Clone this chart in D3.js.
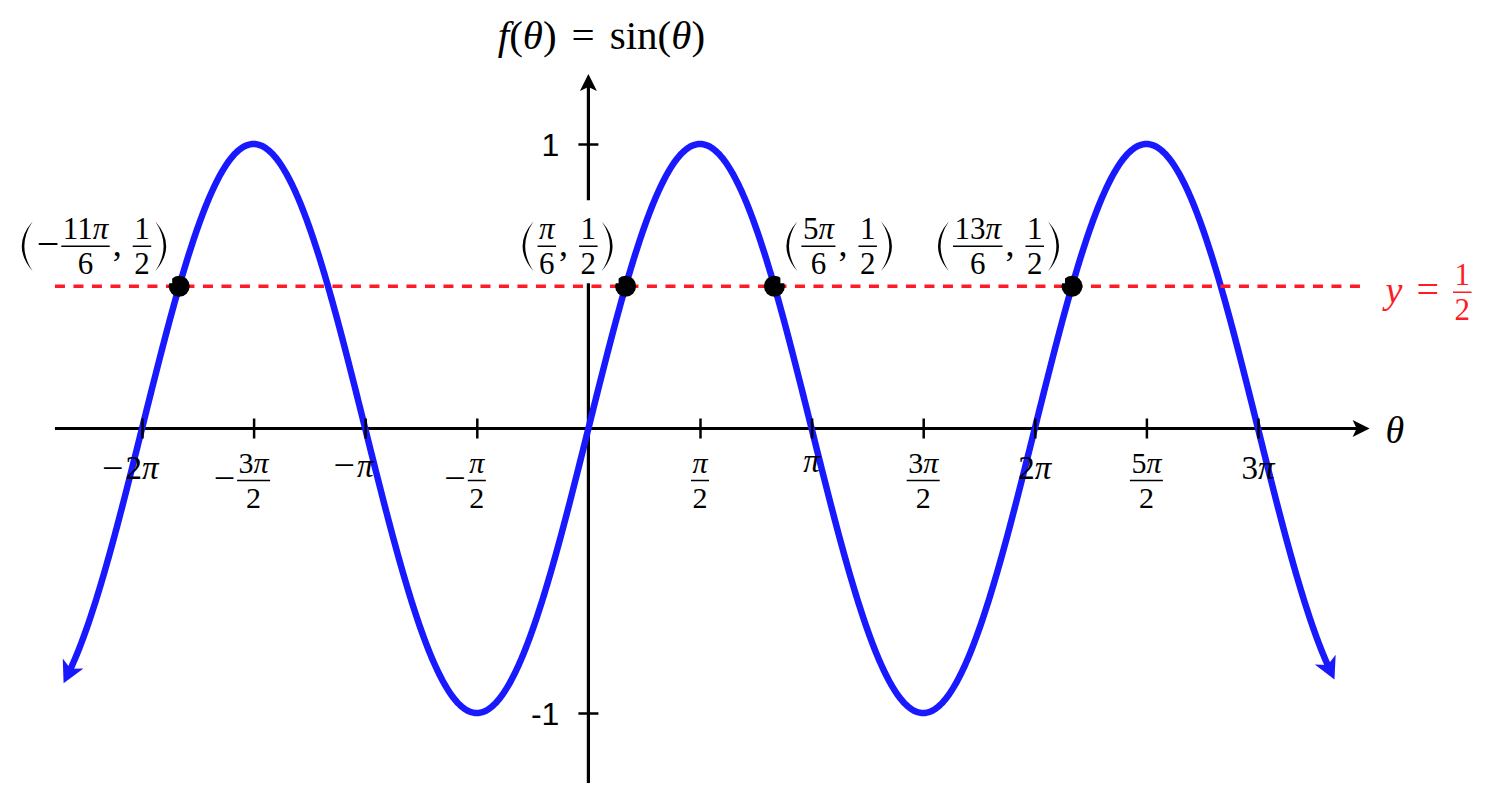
<!DOCTYPE html>
<html>
<head>
<meta charset="utf-8">
<script src="https://cdn.jsdelivr.net/npm/d3@7"></script>
<style>
  body { margin: 0; background: #fff; }
  svg { display: block; }
</style>
</head>
<body>
<svg id="chart" width="1496" height="802"></svg>
<script>
const PI = Math.PI;

// tick positions are in multiples of pi
const xTickValues = [-2, -1.5, -1, -0.5, 0.5, 1, 1.5, 2, 2.5, 3];
const xTickLabels = ["−2π", "−3π/2", "−π", "−π/2", "π/2", "π", "3π/2", "2π", "5π/2", "3π"];
const yTickValues = [-1, 1];
const yTickLabels = ["-1", "1"];

// plotted range of the sine curve (multiples of pi)
const curveRange = [-2.328, 3.32];
// horizontal line y = 1/2 and where it meets the curve
const lineValue = 0.5;
const pointTheta = [-11 / 6, 1 / 6, 5 / 6, 13 / 6];
const pointLabelX = ["−11π/6", "π/6", "5π/6", "13π/6"];
const pointLabelY = "1/2";
const pointLabelSide = ["left", "left", "right", "left"];

const SERIF = "'Liberation Serif', 'Times New Roman', serif";
const SANS = "'Liberation Sans', Arial, sans-serif";
const BLUE = "#1919ff";
const RED = "#ff1a26";

const svg = d3.select("#chart");
svg.append("rect").attr("width", 1496).attr("height", 802).attr("fill", "#fff");

const xScale = d3.scaleLinear().domain([-2 * PI, 3 * PI]).range([142, 1258]);
const yScale = d3.scaleLinear().domain([-1, 1]).range([713, 144]);
const x0 = xScale(0), y0 = yScale(0);

// ---- arrow heads
const defs = svg.append("defs");
defs.append("marker").attr("id", "axisArrow")
    .attr("markerUnits", "userSpaceOnUse")
    .attr("viewBox", "-16 -12 32 24").attr("markerWidth", 32).attr("markerHeight", 24)
    .attr("refX", 0).attr("refY", 0).attr("orient", "auto")
  .append("path").attr("d", "M8,0 L-9,-8.5 L-5,0 L-9,8.5 Z").attr("fill", "#000");
defs.append("marker").attr("id", "curveArrow")
    .attr("markerUnits", "userSpaceOnUse")
    .attr("viewBox", "-16 -14 32 28").attr("markerWidth", 32).attr("markerHeight", 28)
    .attr("refX", 0).attr("refY", 0).attr("orient", "auto-start-reverse")
  .append("path").attr("d", "M12,0 L-10,-11.5 L-4,0 L-10,11.5 Z").attr("fill", BLUE);

// ---- small helpers for math-like text (one <text> per row, pieces as tspans)
function drawText(txt, x, y, str, size) {
    const s = txt.append("tspan").attr("x", x).attr("y", y).attr("font-size", size);
    (str.match(/sin|[A-Za-zθπ]|[^A-Za-zθπ]+/g) || []).forEach(tok => {
        s.append("tspan")
            .attr("font-style", /^[A-Za-zθπ]$/.test(tok) ? "italic" : null)
            .text(tok);
    });
    return s;
}
function textWidth(t) { return t.node().getComputedTextLength(); }

// numerator / denominator placed so their font boxes just clear the bar
function drawFrac(row, x, num, den, size) {
    const tn = drawText(row.txt, 0, -(0.216 * size + 0.6), num, size);
    const td = drawText(row.txt, 0, 0.891 * size + 0.6, den, size);
    const wn = textWidth(tn), wd = textWidth(td);
    const w = Math.max(wn, wd) + 3;
    tn.attr("x", x + (w - wn) / 2);
    td.attr("x", x + (w - wd) / 2);
    row.g.append("rect").attr("x", x).attr("y", -0.75).attr("width", w).attr("height", 1.5);
    return w;
}

function parenPath(x, side, w, h) {
    const t = 2.6;
    if (side === "(") {
        const xe = x + w - 1, xm = x + 1;
        return `M${xe},${-h / 2} Q${2 * xm - xe},0 ${xe},${h / 2} Q${2 * (xm + t) - xe},0 ${xe},${-h / 2} Z`;
    }
    const xe = x + 1, xm = x + w - 1;
    return `M${xe},${-h / 2} Q${2 * xm - xe},0 ${xe},${h / 2} Q${2 * (xm - t) - xe},0 ${xe},${-h / 2} Z`;
}

// lays items out left to right; y = 0 is the math axis (fraction bar)
function mathRow(parent, items, color) {
    const g = parent.append("g").attr("fill", color);
    const row = { g: g, txt: null, width: 0 };
    row.txt = g.append("text").attr("font-family", SERIF);
    let x = 0;
    items.forEach(it => {
        if (it.gap !== undefined) x += it.gap;
        else if (it.paren) {
            g.append("path").attr("d", parenPath(x, it.paren, 13, 50));
            x += 13;
        }
        else if (it.den !== undefined) x += drawFrac(row, x, it.num, it.den, it.size);
        else {
            const t = drawText(row.txt, x, it.base !== undefined ? it.base : it.size * 0.27, it.text, it.size);
            x += textWidth(t);
        }
    });
    row.width = x;
    return row;
}

// ---- axes lines
const axisLayer = svg.append("g");
axisLayer.append("line")
    .attr("x1", xScale(-2.39 * PI)).attr("x2", xScale(3.5 * PI) - 8)
    .attr("y1", y0).attr("y2", y0)
    .attr("stroke", "#000").attr("stroke-width", 3.2)
    .attr("marker-end", "url(#axisArrow)");
axisLayer.append("line")
    .attr("x1", x0).attr("x2", x0)
    .attr("y1", yScale(-1.246)).attr("y2", yScale(1.246) + 8)
    .attr("stroke", "#000").attr("stroke-width", 3.2)
    .attr("marker-end", "url(#axisArrow)");

// ---- sine curve
const curveData = d3.range(curveRange[0], curveRange[1], 0.004).concat([curveRange[1]])
    .map(t => ({ x: t * PI, y: Math.sin(t * PI) }));
const line = d3.line().x(d => xScale(d.x)).y(d => yScale(d.y));
svg.append("path")
    .attr("d", line(curveData))
    .attr("fill", "none")
    .attr("stroke", BLUE).attr("stroke-width", 6.5)
    .attr("marker-start", "url(#curveArrow)")
    .attr("marker-end", "url(#curveArrow)");

// ---- ticks
const xAxisG = svg.append("g").attr("transform", `translate(0,${y0})`)
    .call(d3.axisBottom(xScale).tickValues(xTickValues.map(v => v * PI)).tickSize(10).tickFormat(""));
xAxisG.select(".domain").remove();
xAxisG.selectAll(".tick line").attr("y1", -10).attr("stroke", "#000").attr("stroke-width", 2.5);

const yAxisG = svg.append("g").attr("transform", `translate(${x0},0)`)
    .call(d3.axisLeft(yScale).tickValues(yTickValues).tickSize(10).tickPadding(19)
        .tickFormat((d, i) => yTickLabels[i]));
yAxisG.select(".domain").remove();
yAxisG.attr("font-size", 32).attr("font-family", SANS);
yAxisG.selectAll(".tick line").attr("x1", 10).attr("stroke", "#000").attr("stroke-width", 2.5);
yAxisG.selectAll(".tick text").attr("dy", "0.37em").attr("fill", "#000");

// ---- the line y = 1/2
svg.append("line")
    .attr("x1", xScale(-2.39 * PI)).attr("x2", xScale(3.475 * PI))
    .attr("y1", yScale(lineValue)).attr("y2", yScale(lineValue))
    .attr("stroke", RED).attr("stroke-width", 3.5)
    .attr("stroke-dasharray", "10 8.5");

// ---- intersection points
svg.selectAll("circle.pt")
    .data(pointTheta)
    .join("circle").attr("class", "pt")
    .attr("cx", d => xScale(d * PI))
    .attr("cy", yScale(lineValue))
    .attr("r", 10.5)
    .attr("fill", "#000");

// ---- x tick labels
const labelLayer = svg.append("g");
const TICK_SIZE = 33, TICK_FRAC = 30, MINUS_SIZE = 38;
xTickValues.forEach((v, i) => {
    const label = xTickLabels[i];
    const neg = label.startsWith("−");
    const body = neg ? label.slice(1) : label;
    const parts = body.split("/");
    const cx = xScale(v * PI);
    let row, ty, mBase;
    if (parts.length === 2) {
        row = mathRow(labelLayer, [{ num: parts[0], den: parts[1], size: TICK_FRAC }], "#000");
        ty = y0 + 52;
        mBase = MINUS_SIZE * 0.27;
    } else {
        row = mathRow(labelLayer, [{ text: body, size: TICK_SIZE, base: 0 }], "#000");
        const h = /\d/.test(body) ? 0.66 : (neg ? 0.58 : 0.45);
        ty = y0 + 29 + h * TICK_SIZE;
        mBase = -TICK_SIZE * 0.27 + MINUS_SIZE * 0.27;
    }
    if (neg) {
        const m = drawText(row.txt, 0, mBase, "−", MINUS_SIZE);
        m.attr("x", -textWidth(m) - 2);
    }
    row.g.attr("transform", `translate(${cx - row.width / 2},${ty})`);
});

// ---- point labels
const yParts = pointLabelY.split("/");
pointTheta.forEach((t, i) => {
    const lbl = pointLabelX[i];
    const neg = lbl.startsWith("−");
    const xp = (neg ? lbl.slice(1) : lbl).split("/");
    const items = [{ paren: "(" }, { gap: 3 }];
    if (neg) items.push({ text: "−", size: 40 }, { gap: 2 });
    items.push({ num: xp[0], den: xp[1], size: 31 }, { gap: 3 },
        { text: ",", size: 36 }, { gap: 11 },
        { num: yParts[0], den: yParts[1], size: 31 }, { gap: 3 }, { paren: ")" });
    const holder = labelLayer.append("g");
    const box = holder.append("rect").attr("fill", "#fff");
    const row = mathRow(holder, items, "#000");
    box.attr("x", -5).attr("y", -46).attr("width", row.width + 10).attr("height", 83);
    const px = xScale(t * PI);
    const lx = pointLabelSide[i] === "left" ? px - 12 - row.width : px + 11;
    holder.attr("transform", `translate(${lx},${yScale(lineValue) - 40})`);
});

// ---- y = 1/2 label
const lineLabel = mathRow(labelLayer, [
    { text: "y", size: 38 }, { gap: 14 }, { text: "=", size: 40 }, { gap: 14 },
    { num: yParts[0], den: yParts[1], size: 31 }
], RED);
lineLabel.g.attr("transform", `translate(${xScale(3.5 * PI) + 16},${yScale(lineValue) + 6})`);

// ---- axis titles
const thetaRow = mathRow(labelLayer, [{ text: "θ", size: 38, base: 0 }], "#000");
thetaRow.g.attr("transform", `translate(${xScale(3.5 * PI) + 16},${y0 + 14})`);

const title = mathRow(labelLayer, [
    { text: "f(θ)", size: 41 }, { gap: 15 }, { text: "=", size: 41 }, { gap: 15 }, { text: "sin(θ)", size: 41 }
], "#000");
title.g.attr("transform", `translate(${x0 + 13 - title.width / 2},${49 - 41 * 0.27})`);
</script>
</body>
</html>
